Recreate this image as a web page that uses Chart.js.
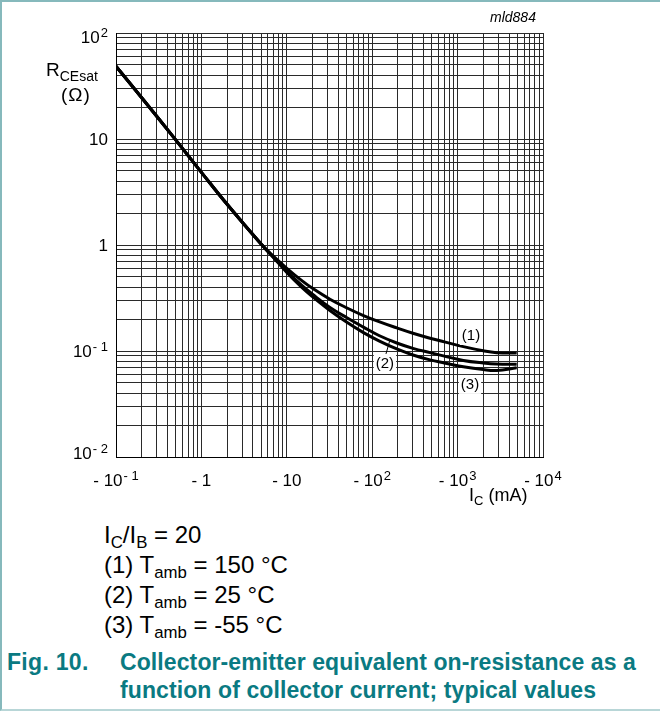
<!DOCTYPE html>
<html>
<head>
<meta charset="utf-8">
<script src="https://cdn.jsdelivr.net/npm/chart.js@4"></script>
<style>
html,body{margin:0;padding:0;background:#fff;}
#page{position:relative;width:660px;height:713px;overflow:hidden;font-family:"Liberation Sans",Arial,Helvetica,sans-serif;color:#000;}
#frame{position:absolute;left:0;top:0;width:660px;height:711px;border-top:2px solid #86b9bc;border-left:2px solid #86b9bc;border-bottom:2px solid #b8d6d7;box-sizing:border-box;}
canvas{position:absolute;left:0;top:0;}
.t{position:absolute;white-space:nowrap;}
.t sub{font-size:70%;vertical-align:baseline;position:relative;top:0.32em;}
#notes{left:104px;top:521px;font-size:24px;line-height:27px;}
.cap{font-weight:bold;color:#0a7a82;font-size:23px;line-height:28px;}
</style>
</head>
<body>
<div id="page">
<div id="frame"></div>
<canvas id="c" width="660" height="505"></canvas>
<div class="t" style="left:46px;top:59px;font-size:19px;">R<sub style="font-size:14px;top:5px;">CEsat</sub></div>
<div class="t" style="left:61px;top:84px;font-size:19px;letter-spacing:1px;">(Ω)</div>
<div class="t" style="left:490px;top:9px;font-size:14px;font-style:italic;">mld884</div>
<div class="t" style="left:469px;top:485px;font-size:18px;">I<sub style="font-size:13px;top:4px;">C</sub> (mA)</div>
<div class="t" id="notes">I<sub>C</sub>/I<sub>B</sub> = 20<br>(1) T<sub>amb</sub> = 150 °C<br>(2) T<sub>amb</sub> = 25 °C<br>(3) T<sub>amb</sub> = -55 °C</div>
<div class="t cap" style="left:7px;top:648px;letter-spacing:0.3px;">Fig. 10.</div>
<div class="t cap" style="left:120px;top:648px;letter-spacing:0.1px;">Collector-emitter equivalent on-resistance as a<br>function of collector current; typical values</div>
</div>
<script>
// ---- data ----
const currentMA = [0.1,0.2,0.5,1,2,5,7,10,15,20,32,50,79,120,194,300,475,700,1167,2000,2870,4920];
const rce150C = [48.5,24.5,9.8,4.85,2.42,1.02,0.78,0.603,0.461,0.39,0.308,0.256,0.216,0.189,0.165,0.147,0.132,0.122,0.110,0.1005,0.0965,0.0955];
const rce25C  = [48.5,24.5,9.8,4.85,2.42,1.02,0.765,0.565,0.415,0.343,0.258,0.207,0.168,0.140,0.119,0.106,0.0965,0.0895,0.0815,0.077,0.0752,0.0748];
const rceM55C = [48.5,24.5,9.8,4.85,2.42,1.02,0.76,0.551,0.398,0.3255,0.241,0.1875,0.149,0.1247,0.1045,0.0917,0.0824,0.0771,0.071,0.0668,0.0655,0.0695];
const curveNames = ['(1)','(2)','(3)'];

// tick labels
const xTickValues = [0.1,1,10,100,1000,10000];
const xTickBase = ['- 10','- 1','- 10','- 10','- 10','- 10'];
const xTickSup  = ['- 1','','','2','3','4'];
const yTickValues = [100,10,1,0.1,0.01];
const yTickBase = ['10','10','1','10','10'];
const yTickSup  = ['2','','','- 1','- 2'];

// grid decades & minor multipliers
const xDecades = [0.1,1,10,100,1000];
const yDecades = [0.01,0.1,1,10];
const multipliers = [1,2,3,4,5,6,7,8,9];

function gridTicks(decades, last){
  const t=[];
  decades.forEach(d=>multipliers.forEach(m=>t.push({value:+(d*m).toPrecision(6)})));
  t.push({value:last});
  return t;
}

function pts(ys){ return currentMA.map((x,i)=>({x:x,y:ys[i]})); }

const FONT = '"Liberation Sans", Arial, sans-serif';

const labelsPlugin = {
  id:'customLabels',
  afterDraw(chart){
    const ctx = chart.ctx, xs = chart.scales.x, ys = chart.scales.y;
    ctx.save();
    ctx.fillStyle = '#000';
    ctx.textBaseline = 'alphabetic';
    // x tick labels
    xTickValues.forEach((v,i)=>{
      ctx.font = '17px '+FONT;
      const wb = ctx.measureText(xTickBase[i]).width;
      ctx.font = '13px '+FONT;
      const ws = xTickSup[i] ? ctx.measureText(xTickSup[i]).width + 1 : 0;
      const cx = xs.getPixelForValue(v);
      let x0 = cx - (wb+ws)/2;
      const base = chart.chartArea.bottom + 29;
      ctx.font = '17px '+FONT; ctx.textAlign='left';
      ctx.fillText(xTickBase[i], x0, base);
      if (ws){ ctx.font='13px '+FONT; ctx.fillText(xTickSup[i], x0+wb+1, base-6); }
    });
    // y tick labels
    yTickValues.forEach((v,i)=>{
      ctx.font = '13px '+FONT;
      const ws = yTickSup[i] ? ctx.measureText(yTickSup[i]).width + 1 : 0;
      const right = chart.chartArea.left - 8;
      const py = ys.getPixelForValue(v);
      const off = i===0 ? 10 : (i===yTickValues.length-1 ? 1.5 : 5.5);
      const base = py + off;
      ctx.font = '17px '+FONT; ctx.textAlign='right';
      ctx.fillText(yTickBase[i], right - ws, base);
      if (ws){ ctx.font='13px '+FONT; ctx.textAlign='left'; ctx.fillText(yTickSup[i], right-ws+1, base-6); }
    });
    // curve labels with white background
    const anchors = [[1435,0.1416],[141,0.077],[1396,0.0489]];
    ctx.font = '15px '+FONT;
    ctx.textAlign='center';
    anchors.forEach((a,i)=>{
      const px = xs.getPixelForValue(a[0]), py = ys.getPixelForValue(a[1]);
      const w = ctx.measureText(curveNames[i]).width;
      ctx.fillStyle='#fff';
      ctx.fillRect(px-w/2-2, py-9, w+4, 19);
      ctx.fillStyle='#000';
      ctx.fillText(curveNames[i], px, py+5);
    });
    // leader line for (2)
    ctx.strokeStyle='#000'; ctx.lineWidth=1;
    ctx.beginPath();
    ctx.moveTo(xs.getPixelForValue(145), ys.getPixelForValue(0.0938));
    ctx.lineTo(xs.getPixelForValue(160), ys.getPixelForValue(0.124));
    ctx.stroke();
    ctx.restore();
  }
};

const lineStyle = {borderColor:'#000', borderWidth:3, pointRadius:0, fill:false, tension:0.4};

new Chart(document.getElementById('c'), {
  type:'line',
  data:{datasets:[
    Object.assign({label:curveNames[0], data:pts(rce150C)}, lineStyle),
    Object.assign({label:curveNames[1], data:pts(rce25C)}, lineStyle),
    Object.assign({label:curveNames[2], data:pts(rceM55C)}, lineStyle)
  ]},
  options:{
    responsive:false, animation:false, devicePixelRatio:1,
    layout:{padding:{left:116, top:33, right:117, bottom:48}},
    plugins:{legend:{display:false}, tooltip:{enabled:false}},
    scales:{
      x:{type:'logarithmic', min:0.1, max:10000,
         afterBuildTicks(s){ s.ticks = gridTicks(xDecades, 10000); },
         ticks:{display:false, autoSkip:false},
         grid:{color:'#2a2a2a', lineWidth:1, drawTicks:false},
         border:{color:'#000', width:1}},
      y:{type:'logarithmic', min:0.01, max:100,
         afterBuildTicks(s){ s.ticks = gridTicks(yDecades, 100); },
         ticks:{display:false, autoSkip:false},
         grid:{color:'#2a2a2a', lineWidth:1, drawTicks:false},
         border:{color:'#000', width:1}}
    }
  },
  plugins:[labelsPlugin]
});
</script>
</body>
</html>
